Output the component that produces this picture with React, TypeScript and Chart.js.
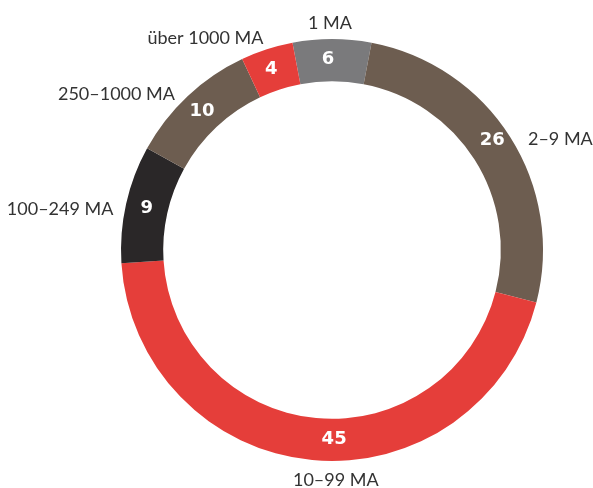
import React, { useEffect, useRef } from "react";
import { Chart, registerables } from "chart.js";

Chart.register(...registerables);

const categories = ["1 MA", "2–9 MA", "10–99 MA", "100–249 MA", "250–1000 MA", "über 1000 MA"];
const values = [6, 26, 45, 9, 10, 4];
const colors = ["#7a7a7c", "#6d5d50", "#e53e3a", "#2a2728", "#6d5d50", "#e53e3a"];

// small label nudges (style only)
const innerNudge = [[-4, -1], [0, -8], [20, 0], [0, 0], [0, 0], [-2, 0]];
const outerNudge = [[-2, -2], [6, 10], [25, 6], [1, 8], [-3, 8], [1, 2]];

const labelPlugin = {
  id: "ringLabels",
  afterDatasetsDraw(chart: any) {
    const ctx = chart.ctx;
    const meta = chart.getDatasetMeta(0);
    ctx.save();
    meta.data.forEach((arc: any, i: number) => {
      const { x, y, startAngle, endAngle, innerRadius, outerRadius } = arc.getProps(
        ["x", "y", "startAngle", "endAngle", "innerRadius", "outerRadius"],
        true
      );
      const mid = (startAngle + endAngle) / 2;
      const cx = Math.cos(mid);
      const cy = Math.sin(mid);
      const rMid = (innerRadius + outerRadius) / 2;
      // value label
      ctx.font = "bold 18px 'DejaVu Sans'";
      ctx.fillStyle = "#ffffff";
      ctx.textAlign = "center";
      ctx.textBaseline = "middle";
      ctx.fillText(
        String(values[i]),
        x + cx * rMid + innerNudge[i][0],
        y + cy * rMid + innerNudge[i][1]
      );
      // category label
      const rOut = outerRadius + 14;
      ctx.font = "18px Lato";
      ctx.fillStyle = "#333333";
      ctx.textAlign = cx > 0.3 ? "left" : cx < -0.3 ? "right" : "center";
      ctx.textBaseline = "middle";
      ctx.fillText(
        categories[i],
        x + cx * rOut + outerNudge[i][0],
        y + cy * rOut + outerNudge[i][1]
      );
    });
    ctx.restore();
  },
};

export default function App() {
  const ref = useRef<HTMLCanvasElement>(null);
  useEffect(() => {
    if (!ref.current) return;
    const chart = new Chart(ref.current, {
      type: "doughnut",
      data: {
        labels: categories,
        datasets: [
          {
            data: values,
            backgroundColor: colors,
            borderWidth: 0,
            hoverOffset: 0,
            offset: 0,
          },
        ],
      },
      options: {
        responsive: false,
        animation: false,
        cutout: "80%",
        rotation: -10.8,
        layout: { padding: { left: 121, right: 50, top: 39, bottom: 27 } },
        plugins: {
          legend: { display: false },
          tooltip: { enabled: false },
        },
        events: [],
      },
      plugins: [labelPlugin],
    });
    return () => chart.destroy();
  }, []);
  return (
    <div style={{ position: "absolute", left: 0, top: 0, width: 593, height: 488, background: "#fff" }}>
      <canvas ref={ref} width={593} height={488} style={{ display: "block" }} />
    </div>
  );
}
